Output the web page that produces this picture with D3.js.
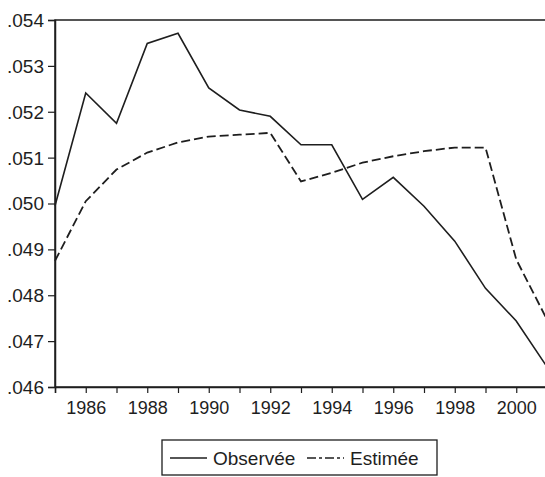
<!DOCTYPE html>
<html>
<head>
<meta charset="utf-8">
<script src="https://cdn.jsdelivr.net/npm/d3@7"></script>
<style>
  html, body { margin: 0; padding: 0; background: #fff; }
  svg { display: block; font-family: "Liberation Sans", Arial, sans-serif; }
</style>
</head>
<body>
<svg id="chart"></svg>
<script>
var years = [1985, 1986, 1987, 1988, 1989, 1990, 1991, 1992, 1993, 1994, 1995, 1996, 1997, 1998, 1999, 2000, 2001];
var observee = [.04995, .05241, .05175, .05349, .05371, .05252, .05204, .05190, .05128, .05128, .05009, .05057, .04994, .04918, .04815, .04744, .04644];
var estimee = [.04875, .05005, .05074, .05111, .05133, .05146, .05150, .05154, .05048, .05067, .05089, .05103, .05114, .05122, .05122, .04878, .04747];
var yTicks = [.046, .047, .048, .049, .050, .051, .052, .053, .054];
var xLabelYears = [1986, 1988, 1990, 1992, 1994, 1996, 1998, 2000];
var seriesNames = ['Observée', 'Estimée'];

var margin = { top: 20, left: 55 };
var width = 492;
var height = 367;
var ink = '#1e1e1e';

var x = d3.scaleLinear().domain([1985, 2001]).range([0, width]);
var y = d3.scaleLinear().domain([.046, .054]).range([height, 0]);

var svg = d3.select('#chart')
    .attr('width', 545)
    .attr('height', 477);

var g = svg.append('g')
    .attr('transform', 'translate(' + margin.left + ',' + margin.top + ')');

// frame (right side falls just outside the window, as in the scan)
g.append('rect')
    .attr('x', 0).attr('y', 0)
    .attr('width', width).attr('height', height)
    .attr('fill', 'none')
    .attr('stroke', ink)
    .attr('stroke-width', 1.5);

var yAxis = d3.axisLeft(y)
    .tickValues(yTicks)
    .tickSize(7)
    .tickPadding(4)
    .tickFormat(function (d) { return d3.format('.3f')(d).replace(/^0/, ''); });

var xAxis = d3.axisBottom(x)
    .tickValues(years)
    .tickSize(6)
    .tickPadding(8)
    .tickFormat(function (d) { return xLabelYears.indexOf(d) >= 0 ? d : ''; });

var gy = g.append('g').call(yAxis);
var gx = g.append('g').attr('transform', 'translate(0,' + height + ')').call(xAxis);

[gx, gy].forEach(function (a) {
    a.select('.domain').attr('stroke', ink).attr('stroke-width', 1.5);
    a.selectAll('.tick line').attr('stroke', ink).attr('stroke-width', 1.2);
    a.selectAll('.tick text')
        .attr('fill', ink)
        .style('font-size', '18px')
        .style('font-family', '"Liberation Sans", Arial, sans-serif')
        .attr('lengthAdjust', 'spacingAndGlyphs');
});
// the scanned labels are a bit wider than the plain font
gy.selectAll('.tick text').attr('dy', '0.36em').attr('textLength', 37);
gx.selectAll('.tick text').filter(function (d) { return xLabelYears.indexOf(d) >= 0; }).attr('textLength', 40);

var line = d3.line()
    .x(function (d, i) { return x(years[i]); })
    .y(function (d) { return y(d); });

g.append('path')
    .datum(observee)
    .attr('fill', 'none')
    .attr('stroke', ink)
    .attr('stroke-width', 1.6)
    .attr('d', line);

g.append('path')
    .datum(estimee)
    .attr('fill', 'none')
    .attr('stroke', ink)
    .attr('stroke-width', 1.8)
    .attr('stroke-dasharray', '9,4')
    .attr('d', line);

// legend
var lg = svg.append('g').attr('transform', 'translate(162,440)');
lg.append('rect')
    .attr('width', 275).attr('height', 35)
    .attr('fill', '#fff')
    .attr('stroke', ink)
    .attr('stroke-width', 1.3);

var items = [
    { name: seriesNames[0], x0: 8, dash: null },
    { name: seriesNames[1], x0: 145, dash: '9,3,3,3' }
];
items.forEach(function (it) {
    lg.append('line')
        .attr('x1', it.x0).attr('x2', it.x0 + 37)
        .attr('y1', 18).attr('y2', 18)
        .attr('stroke', ink)
        .attr('stroke-width', 1.5)
        .attr('stroke-dasharray', it.dash);
    lg.append('text')
        .attr('x', it.x0 + 43)
        .attr('y', 25)
        .attr('fill', ink)
        .style('font-size', '19px')
        .text(it.name);
});
</script>
</body>
</html>
